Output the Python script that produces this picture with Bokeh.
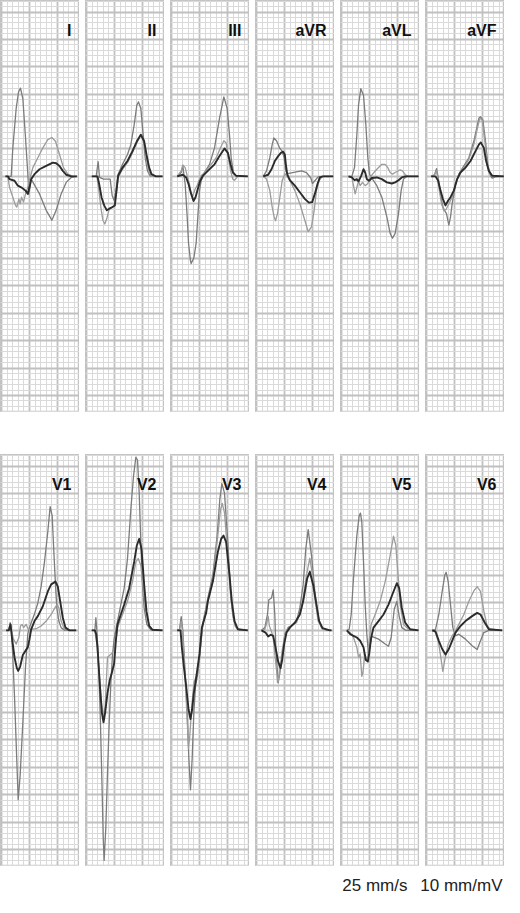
from bokeh.plotting import figure
from bokeh.layouts import row, column
from bokeh.models import Range1d, SingleIntervalTicker, Label, Spacer, ColumnDataSource
from bokeh.embed import file_html
from bokeh.resources import INLINE

# Each trace: (time in mm at 25 mm/s, amplitude in mm at 10 mm/mV)
# A = medium grey, B = light grey, D = dark (thick)
I_A = [(0.71,0),(1.73,0),(2.02,5.2),(2.62,12.4),(3.04,15.4),(3.39,16.1),(3.81,14.2),(4.29,7.0),(4.7,0.4),(4.88,-3.2),(5.3,-0.5),(6.79,-3.2),(7.98,-6.2),(8.99,-8.0),(9.76,-6.2),(10.65,-3.2),(11.55,-1.1),(12.44,-0.2),(13.45,0)]
I_B = [(0.71,0),(1.13,0),(1.43,-2.0),(2.02,-3.8),(2.5,-5.3),(2.74,-5.6),(3.1,-4.1),(3.33,-5.0),(3.57,-3.8),(3.93,-4.7),(4.29,-3.2),(4.7,-2.0),(5.12,-0.2),(5.6,1.6),(6.49,3.4),(7.38,5.2),(8.27,6.7),(8.99,7.1),(9.64,6.4),(10.36,4.0),(11.07,1.6),(11.85,0.4),(12.74,0),(13.45,0)]
I_D = [(0.71,0),(1.13,0),(1.43,-0.5),(2.32,-0.8),(2.92,-1.7),(3.51,-2.0),(3.93,-2.3),(4.29,-2.6),(4.7,-3.2),(5.0,-2.0),(5.3,-0.5),(5.89,0.4),(6.79,1.3),(7.98,1.9),(9.17,2.5),(9.76,2.4),(10.36,1.9),(10.95,1.0),(11.55,0.3),(12.44,0),(13.45,0)]

II_A = [(0.95,0),(1.73,0),(2.08,2.7),(2.32,-0.2),(3.04,-0.5),(4.23,-0.5),(4.58,-3.5),(4.94,-4.4),(5.3,-2.3),(5.65,0.4),(6.43,2.2),(7.32,4.0),(7.92,5.8),(8.51,9.4),(8.99,13.0),(9.29,13.6),(9.7,12.4),(10.12,7.6),(10.48,3.4),(10.89,1.0),(11.37,0.1),(12.38,0),(13.57,0)]
II_B = [(0.95,0),(1.85,0),(2.14,-2.0),(2.56,-5.6),(2.92,-8.0),(3.27,-8.7),(3.63,-7.7),(3.99,-6.2),(4.46,-5.7),(4.94,-5.4),(5.3,-3.2),(5.65,-0.2),(6.43,1.3),(7.32,2.5),(8.21,4.3),(8.99,6.1),(9.58,7.3),(9.94,7.5),(10.36,5.8),(10.77,2.8),(11.19,0.7),(11.6,0),(13.57,0)]
II_D = [(0.95,0),(1.96,0),(2.26,-1.4),(2.68,-3.8),(3.15,-5.3),(3.63,-6.2),(4.05,-5.9),(4.64,-5.6),(5.06,-5.3),(5.36,-2.6),(5.65,0.1),(6.43,1.6),(7.32,2.8),(8.21,4.6),(8.99,6.4),(9.7,7.6),(10.3,6.4),(10.71,4.0),(11.19,1.6),(11.6,0.4),(12.38,0),(13.57,0)]

III_A = [(1.01,0),(1.73,0.7),(2.02,1.9),(2.44,-1.4),(2.8,-7.4),(3.04,-12.2),(3.39,-15.4),(3.51,-15.9),(3.99,-14.9),(4.4,-12.2),(4.7,-7.4),(5.0,-2.6),(5.3,-0.8),(5.89,0.7),(6.79,2.2),(7.68,5.2),(8.57,10.6),(9.35,14.5),(9.94,12.4),(10.36,7.6),(10.65,3.4),(11.07,0.7),(11.55,0.1),(13.63,0)]
III_B = [(1.01,0),(1.73,1.0),(2.02,2.1),(2.44,1.6),(2.8,0.1),(3.21,-1.4),(3.51,-3.2),(3.81,-3.5),(4.23,-2.3),(4.58,-1.7),(4.88,-0.8),(5.3,0.1),(6.19,1.0),(7.08,2.2),(7.98,3.4),(8.87,5.5),(9.35,6.5),(9.76,6.1),(10.18,3.4),(10.54,1.0),(10.95,-0.5),(11.25,-0.7),(11.85,0),(13.63,0)]
III_D = [(1.01,0),(2.02,0.3),(2.62,-0.2),(3.04,-1.4),(3.51,-3.2),(3.93,-4.5),(4.29,-3.8),(4.7,-2.3),(5.12,-0.8),(5.6,0.1),(6.49,1.0),(7.68,2.2),(8.57,3.7),(9.46,5.1),(10.06,4.3),(10.54,2.2),(10.95,0.7),(11.55,0.1),(13.63,0)]

aVR_A = [(1.19,0),(1.79,1.0),(2.38,3.4),(2.8,5.8),(3.1,7.0),(3.57,6.5),(3.87,5.8),(4.17,5.1),(4.58,4.6),(4.94,3.4),(5.24,1.0),(5.54,0.5),(8.04,1.0),(8.93,0.7),(9.7,-0.3),(10.0,-1.3),(10.42,-0.8),(11.01,-0.1),(11.9,0),(13.69,0)]
aVR_B = [(1.19,0),(1.79,-0.5),(2.38,-2.6),(2.8,-5.6),(3.15,-7.4),(3.39,-8.1),(3.75,-6.8),(4.17,-3.8),(4.58,-0.8),(5.06,0.5),(5.95,-0.7),(6.85,-2.6),(7.74,-5.0),(8.63,-8.0),(9.23,-10.1),(9.82,-9.2),(10.3,-6.2),(10.71,-2.6),(11.19,-0.8),(11.73,0),(13.69,0)]
aVR_D = [(1.19,0),(2.08,0.3),(2.68,1.3),(3.27,2.8),(3.87,3.7),(4.35,4.3),(4.76,4.5),(5.06,4.0),(5.24,2.2),(5.48,0.4),(5.95,-0.7),(6.85,-1.7),(7.74,-2.9),(8.63,-4.1),(9.35,-4.8),(9.94,-4.7),(10.42,-3.2),(10.89,-1.4),(11.31,-0.2),(11.9,0),(13.69,0)]

aVL_A = [(1.25,0),(1.85,0),(2.32,1.6),(2.74,7.6),(3.04,13.0),(3.45,16.0),(3.93,14.8),(4.35,9.4),(4.7,3.4),(5.0,0.4),(5.3,-0.2),(5.54,-0.5),(6.31,-1.7),(7.2,-3.8),(8.1,-7.4),(8.69,-10.4),(9.11,-11.3),(9.58,-10.4),(10.18,-6.8),(10.65,-2.6),(11.07,-0.5),(11.67,0),(13.75,0)]
aVL_B = [(1.25,0),(1.85,-0.2),(2.14,-1.7),(2.44,-3.2),(2.74,-2.0),(3.04,-0.8),(3.33,-1.7),(3.75,-1.1),(4.23,-1.7),(4.7,-1.3),(5.12,-0.2),(5.54,0.4),(6.31,1.3),(7.2,2.2),(7.8,2.2),(8.27,1.6),(8.69,0.7),(9.11,0.4),(9.58,0.7),(10.48,1.2),(10.89,1.0),(11.37,0.3),(11.96,0),(13.75,0)]
aVL_D = [(1.25,0),(1.85,-0.2),(2.32,-0.7),(2.74,-0.5),(3.04,-0.9),(3.51,0.1),(3.93,1.3),(4.23,0.7),(4.52,-0.5),(4.94,-0.8),(5.42,-0.3),(6.31,-0.2),(7.2,-0.5),(8.1,-1.1),(8.99,-1.3),(9.58,-1.1),(10.18,-0.7),(10.77,-0.2),(11.37,0),(13.75,0)]

aVF_A = [(0.83,0),(1.43,0.3),(1.79,1.4),(2.08,-0.2),(2.5,-3.2),(2.92,-5.6),(3.27,-6.3),(3.57,-6.8),(3.99,-8.9),(4.29,-7.4),(4.58,-5.0),(5.18,-1.4),(5.77,0.4),(6.67,1.9),(7.56,3.4),(8.45,6.4),(9.35,10.6),(9.64,10.9),(10.06,10.3),(10.54,6.4),(10.95,2.2),(11.43,0.1),(11.73,-0.3),(12.32,-0.1),(13.81,0)]
aVF_B = [(0.83,0),(1.43,0.3),(1.79,1.0),(2.2,-2.0),(2.68,-5.0),(3.1,-6.3),(3.51,-6.0),(3.99,-5.0),(4.58,-3.8),(5.18,-1.4),(5.77,0.3),(6.67,1.6),(7.56,3.1),(8.45,5.8),(9.23,9.4),(9.52,10.6),(9.94,10.3),(10.42,6.4),(10.83,2.2),(11.25,0.4),(12.02,0.1),(13.81,0)]
aVF_D = [(0.83,0),(1.61,0),(2.08,-0.8),(2.5,-2.6),(2.92,-4.1),(3.39,-5.3),(3.87,-4.4),(4.29,-3.8),(4.88,-2.6),(5.48,-0.5),(6.07,0.7),(6.96,1.6),(7.86,2.8),(8.75,4.6),(9.35,5.8),(9.7,6.2),(10.24,5.2),(10.65,2.8),(11.13,1.0),(11.73,0.1),(13.81,0)]

V1_A = [(0.83,0),(1.31,0),(1.55,1.4),(1.79,0),(2.02,-4.9),(2.32,-12.0),(2.74,-24.0),(2.98,-30.9),(3.33,-26.5),(3.81,-16.8),(4.29,-6.6),(4.7,-0.6),(5.0,0.5),(5.3,1.4),(5.89,3.0),(6.49,5.0),(7.08,8.0),(7.68,12.5),(8.27,18.0),(8.69,22.6),(9.05,20.9),(9.35,14.3),(9.64,8.3),(9.88,4.1),(10.24,1.7),(10.65,0.5),(11.25,0),(13.33,0)]
V1_B = [(0.83,0),(1.31,0),(1.55,1.3),(1.79,-0.2),(2.14,-1.6),(2.62,-2.5),(3.1,-1.3),(3.39,0.8),(3.69,1.1),(3.93,0.5),(4.17,0.8),(4.4,1.1),(4.76,0.2),(5.3,0.2),(6.19,0.3),(7.08,0.8),(7.98,1.7),(8.87,2.9),(9.64,4.3),(9.94,4.7),(10.24,4.1),(10.65,1.7),(11.25,0.2),(12.14,0),(13.33,0)]
V1_D = [(0.83,0),(1.31,0),(1.61,1.1),(1.9,-1.6),(2.32,-4.9),(2.74,-6.9),(2.98,-7.4),(3.33,-6.6),(3.81,-4.5),(4.29,-3.7),(4.7,-3.1),(5.0,-1.6),(5.3,0.2),(5.89,1.7),(6.49,2.6),(7.38,4.4),(8.27,7.1),(8.87,8.4),(9.64,8.9),(10.06,8.0),(10.48,5.3),(10.95,2.3),(11.43,0.5),(12.14,0),(13.33,0)]

V2_A = [(0.95,0),(1.49,0),(1.67,2.3),(1.85,0),(2.14,-6.0),(2.44,-15.0),(2.74,-27.0),(2.98,-37.8),(3.15,-42.0),(3.45,-36.0),(3.75,-26.0),(4.05,-17.0),(4.35,-9.5),(4.64,-4.5),(4.94,-1.5),(5.54,1.7),(6.13,4.7),(6.73,7.7),(7.32,13.1),(7.92,22.1),(8.39,28.1),(8.81,31.6),(9.11,31.1),(9.41,25.1),(9.7,16.1),(10.0,8.3),(10.3,4.1),(10.77,1.1),(11.49,0.1),(13.57,0)]
V2_B = [(0.95,0),(1.49,0),(1.85,-2.5),(2.26,-7.8),(2.68,-13.2),(3.04,-15.9),(3.33,-13.8),(3.75,-4.9),(4.64,-4.1),(5.06,-3.1),(5.54,0.5),(6.43,2.9),(7.32,5.3),(8.21,8.9),(8.81,12.5),(9.23,13.1),(9.7,11.9),(10.12,7.7),(10.6,3.5),(11.19,0.8),(11.79,0.1),(13.57,0)]
V2_D = [(0.95,0),(1.49,0),(1.73,-0.7),(1.96,-3.0),(2.14,-6.0),(2.44,-10.8),(2.74,-15.0),(3.04,-16.8),(3.33,-15.0),(3.75,-11.4),(4.17,-9.0),(4.52,-7.8),(4.94,-6.0),(5.24,-1.9),(5.54,1.1),(6.13,2.9),(6.73,4.7),(7.62,7.7),(8.51,12.5),(8.99,15.5),(9.41,16.7),(9.82,14.9),(10.3,8.3),(10.71,3.5),(11.19,0.8),(11.79,0.1),(13.57,0)]

V3_A = [(1.01,0),(1.43,0.2),(1.73,2.5),(2.02,0),(2.44,-7.8),(2.8,-15.0),(3.1,-23.4),(3.39,-29.1),(3.69,-23.4),(3.99,-15.0),(4.29,-10.2),(4.7,-7.8),(5.18,-3.1),(5.6,1.1),(6.49,5.9),(7.38,10.1),(8.15,17.3),(8.63,23.9),(8.99,26.8),(9.46,25.1),(10.06,16.1),(10.54,7.1),(10.95,2.9),(11.37,0.8),(12.14,0),(13.63,0)]
V3_B = [(1.01,0),(1.43,0),(1.73,1.7),(2.02,-0.7),(2.32,-6.6),(2.68,-13.8),(3.04,-21.6),(3.27,-19.2),(3.63,-13.8),(3.99,-9.6),(4.4,-8.4),(5.0,-5.4),(5.42,0),(5.89,2.9),(6.49,5.3),(7.38,9.6),(8.15,16.2),(8.75,22.0),(9.05,23.2),(9.46,21.5),(10.06,13.7),(10.54,6.5),(11.01,2.3),(11.55,0.5),(12.5,0),(13.63,0)]
V3_D = [(1.01,0),(1.61,0),(1.85,-3.1),(2.2,-6.6),(2.62,-10.2),(3.04,-14.4),(3.39,-16.2),(3.69,-14.4),(3.99,-11.4),(4.4,-8.7),(5.0,-4.3),(5.42,0.5),(6.19,3.2),(6.49,5.3),(7.38,8.9),(8.27,14.3),(8.87,16.7),(9.29,17.3),(9.76,16.1),(10.36,10.1),(10.77,5.3),(11.25,1.7),(11.85,0.2),(13.63,0)]

V4_A = [(0.89,0),(1.49,0.5),(1.96,2.9),(2.2,5.6),(2.68,5.9),(2.98,7.4),(3.27,2.9),(3.45,-3.1),(3.75,-7.8),(3.87,-9.6),(4.17,-7.8),(4.58,-4.9),(5.06,-0.7),(5.65,0.5),(6.25,0.9),(7.14,1.7),(7.74,4.1),(8.33,8.3),(8.8,14.9),(9.23,18.4),(9.82,13.7),(10.42,7.1),(11.01,2.3),(11.6,0.5),(12.5,0),(13.39,0)]
V4_B = [(0.89,0),(1.49,0.2),(1.79,1.2),(2.08,2.6),(2.3,0.8),(2.68,-0.2),(2.98,-1.3),(3.27,-4.3),(3.57,-7.2),(3.75,-9.5),(3.87,-9.3),(4.17,-7.2),(4.58,-3.7),(5.06,-0.9),(5.65,0.5),(6.25,0.9),(7.14,1.4),(8.04,4.1),(8.93,10.1),(9.52,13.2),(10.0,10.1),(10.42,5.9),(11.0,1.7),(11.8,0.2),(13.39,0)]
V4_D = [(0.89,0),(1.61,-0.4),(2.08,-1.1),(2.56,-0.8),(2.98,-1.0),(3.39,-3.1),(3.87,-5.7),(4.29,-6.9),(4.58,-5.4),(4.94,-2.5),(5.36,-0.4),(5.95,0.5),(6.85,1.4),(7.74,2.9),(8.33,5.3),(9.05,9.5),(9.52,10.7),(10.12,8.3),(10.71,4.7),(11.19,1.7),(11.79,0.4),(13.1,0),(13.39,0)]

V5_A = [(0.95,0),(1.37,0.2),(1.73,2.9),(2.14,9.5),(2.74,17.3),(3.15,20.9),(3.39,21.4),(3.63,19.7),(3.93,12.5),(4.23,4.7),(4.52,-0.7),(4.82,-4.3),(5.12,-2.5),(5.42,-1.1),(6.61,-1.6),(7.8,-2.5),(8.39,-2.9),(8.87,-1.3),(9.41,3.8),(9.88,5.3),(10.3,2.6),(10.77,0.5),(11.49,0),(13.75,0)]
V5_B = [(0.95,0),(1.55,-0.4),(2.14,-1.3),(2.74,-3.1),(3.04,-4.9),(3.33,-4.3),(3.63,-8.4),(3.81,-7.8),(4.11,-4.9),(4.35,-5.4),(4.7,-4.9),(4.94,-1.9),(5.3,1.1),(6.01,2.9),(6.9,5.3),(7.8,8.9),(8.69,13.7),(9.29,17.2),(9.7,15.5),(10.06,10.7),(10.48,4.7),(11.07,1.1),(11.96,0.2),(13.75,0)]
V5_D = [(0.95,0),(1.55,-0.7),(2.14,-1.0),(2.74,-1.3),(3.33,-1.9),(3.93,-3.1),(4.35,-5.4),(4.7,-5.7),(4.94,-4.3),(5.3,-1.3),(5.71,0.5),(6.61,1.7),(7.5,2.9),(8.39,4.7),(9.29,7.1),(9.88,8.6),(10.3,7.7),(10.77,4.1),(11.37,1.4),(12.26,0.2),(13.75,0)]

V6_A = [(1.01,0),(1.61,0.2),(2.2,2.9),(2.8,7.1),(3.27,10.1),(3.51,10.6),(3.87,8.9),(4.29,4.7),(4.7,0.5),(5.18,-1.0),(5.77,-0.7),(6.96,-1.6),(8.15,-2.8),(9.05,-3.5),(9.64,-1.9),(10.24,-0.4),(11.13,0),(13.51,0)]
V6_B = [(1.01,0),(1.61,-0.4),(2.2,-2.5),(2.62,-5.4),(2.92,-7.5),(3.27,-5.4),(3.87,-2.5),(4.58,-1.0),(5.18,-0.1),(5.77,1.1),(6.67,2.9),(7.56,5.3),(8.45,7.2),(9.05,8.0),(9.64,7.1),(10.24,3.5),(10.83,0.8),(11.43,0.2),(13.51,0)]
V6_D = [(1.01,0),(1.61,-0.2),(2.2,-1.9),(2.8,-3.4),(3.39,-4.4),(3.99,-3.4),(4.58,-1.9),(5.18,-0.4),(6.07,0.8),(6.96,1.7),(8.15,2.6),(9.05,3.2),(9.64,2.9),(10.42,1.4),(11.13,0.2),(13.51,0)]

TOP_LEADS = ["I", "II", "III", "aVR", "aVL", "aVF"]
BOTTOM_LEADS = ["V1", "V2", "V3", "V4", "V5", "V6"]
SPEED_LABEL = "25 mm/s"
GAIN_LABEL = "10 mm/mV"

TRACES = {
    "I": (I_A, I_B, I_D), "II": (II_A, II_B, II_D), "III": (III_A, III_B, III_D),
    "aVR": (aVR_A, aVR_B, aVR_D), "aVL": (aVL_A, aVL_B, aVL_D), "aVF": (aVF_A, aVF_B, aVF_D),
    "V1": (V1_A, V1_B, V1_D), "V2": (V2_A, V2_B, V2_D), "V3": (V3_A, V3_B, V3_D),
    "V4": (V4_A, V4_B, V4_D), "V5": (V5_A, V5_B, V5_D), "V6": (V6_A, V6_B, V6_D),
}

PW, PH = 79, 412
STYLES = [("#7c7c7c", 1.3), ("#9c9c9c", 1.3), ("#2b2b2b", 1.9)]


def panel(name):
    p = figure(width=PW, height=PH, x_range=Range1d(-0.18, 13.93), y_range=Range1d(-43.1, 32.1),
               output_backend="svg", toolbar_location=None, min_border=0,
               background_fill_color="white", border_fill_color="white",
               outline_line_color="#c4c4c4", outline_line_width=1.5)
    p.axis.visible = False
    for ax, g in ((p.xaxis, p.xgrid), (p.yaxis, p.ygrid)):
        t = SingleIntervalTicker(interval=5, num_minor_ticks=5)
        ax.ticker = t
        g.ticker = t
        g.grid_line_color = "#c0c0c0"
        g.grid_line_width = 1.8
        g.minor_grid_line_color = "#dadada"
        g.minor_grid_line_width = 1
    for pts, (color, w) in zip(TRACES[name], STYLES):
        src = ColumnDataSource(dict(t=[a for a, _ in pts], v=[b for _, b in pts]))
        p.line("t", "v", source=src, line_color=color, line_width=w, line_join="round")
    p.add_layout(Label(x=PW - 8, y=PH - 30, x_units="screen", y_units="screen", text=name,
                       text_align="right", text_baseline="alphabetic",
                       text_font="Liberation Sans", text_font_style="bold",
                       text_font_size="16px", text_color="#111111"))
    return p


top = row(*[panel(n) for n in TOP_LEADS], spacing=6)
bottom = row(*[panel(n) for n in BOTTOM_LEADS], spacing=6)

foot = figure(width=504, height=31, x_range=Range1d(0, 504), y_range=Range1d(0, 31),
              output_backend="svg", toolbar_location=None, min_border=0,
              outline_line_color=None)
foot.axis.visible = False
foot.grid.visible = False
for txt, xr in ((SPEED_LABEL, 407), (GAIN_LABEL, 502)):
    foot.add_layout(Label(x=xr, y=12, x_units="screen", y_units="screen", text=txt,
                          text_align="right", text_baseline="middle",
                          text_font="Liberation Sans", text_font_size="17px",
                          text_color="#222222"))

layout = column(top, Spacer(height=42), bottom, foot)
open("out.html", "w").write(file_html(layout, INLINE))
